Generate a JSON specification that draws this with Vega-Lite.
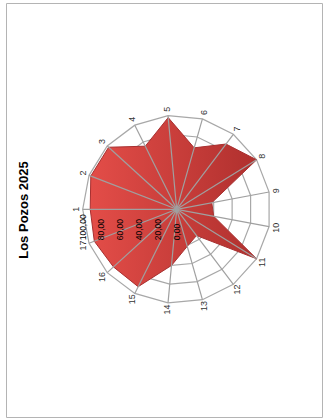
{
  "$schema": "https://vega.github.io/schema/vega-lite/v6.json",
  "width": 316,
  "height": 414,
  "autosize": {"type": "none"},
  "padding": {"left": 6, "top": 3, "right": 1, "bottom": 2},
  "background": "white",
  "config": {"view": {"stroke": "#b4b4b4", "strokeWidth": 1}, "font": "Liberation Sans"},
  "title": {"text": "Los Pozos 2025", "orient": "left", "anchor": "middle", "frame": "group", "offset": -25, "fontSize": 13, "fontWeight": "bold", "color": "#000000", "font": "Liberation Sans"},
  "datasets": {
    "pozos": [
      {"cat": 1, "value": 92}, {"cat": 2, "value": 98}, {"cat": 3, "value": 98},
      {"cat": 4, "value": 75}, {"cat": 5, "value": 98}, {"cat": 6, "value": 68},
      {"cat": 7, "value": 87}, {"cat": 8, "value": 100}, {"cat": 9, "value": 38},
      {"cat": 10, "value": 40}, {"cat": 11, "value": 100}, {"cat": 12, "value": 35},
      {"cat": 13, "value": 41}, {"cat": 14, "value": 60}, {"cat": 15, "value": 92},
      {"cat": 16, "value": 91}, {"cat": 17, "value": 94}
    ],
    "niveles": [
      {"nivel": 0, "etiqueta": "0,00"}, {"nivel": 20, "etiqueta": "20,00"},
      {"nivel": 40, "etiqueta": "40,00"}, {"nivel": 60, "etiqueta": "60,00"},
      {"nivel": 80, "etiqueta": "80,00"}, {"nivel": 100, "etiqueta": "100,00"}
    ]
  },
  "data": {"name": "pozos"},
  "transform": [
    {"calculate": "(datum.cat - 1) * 2 * PI / 17 + 3 * PI / 2", "as": "a"}
  ],
  "layer": [
    {
      "transform": [
        {"calculate": "[20, 40, 60, 80, 100]", "as": "lv"},
        {"flatten": ["lv"]},
        {"calculate": "datum.lv * sin(datum.a)", "as": "rx"},
        {"calculate": "datum.lv * cos(datum.a)", "as": "ry"}
      ],
      "mark": {"type": "line", "interpolate": "linear-closed", "stroke": "#a8a8a8", "strokeWidth": 1.2},
      "encoding": {
        "x": {"field": "rx", "type": "quantitative", "scale": {"domain": [-181.6, 154.6], "nice": false, "zero": false}, "axis": null},
        "y": {"field": "ry", "type": "quantitative", "scale": {"domain": [-221.0, 219.5], "nice": false, "zero": false}, "axis": null},
        "detail": {"field": "lv", "type": "nominal"},
        "order": {"field": "cat", "type": "quantitative"}
      }
    },
    {
      "transform": [
        {"calculate": "datum.value * sin(datum.a)", "as": "px"},
        {"calculate": "datum.value * cos(datum.a)", "as": "py"}
      ],
      "mark": {"type": "line", "interpolate": "linear-closed", "stroke": "#a83030", "strokeWidth": 1,
        "fill": {"gradient": "linear", "x1": 0, "y1": 0, "x2": 1, "y2": 0, "stops": [{"offset": 0, "color": "#e34d48"}, {"offset": 1, "color": "#b0302e"}]}},
      "encoding": {
        "x": {"field": "px", "type": "quantitative"},
        "y": {"field": "py", "type": "quantitative"},
        "order": {"field": "cat", "type": "quantitative"}
      }
    },
    {
      "transform": [
        {"calculate": "100 * sin(datum.a)", "as": "ox"},
        {"calculate": "100 * cos(datum.a)", "as": "oy"}
      ],
      "mark": {"type": "rule", "stroke": "#a0a0a0", "strokeWidth": 1.2},
      "encoding": {
        "x": {"field": "ox", "type": "quantitative"},
        "y": {"field": "oy", "type": "quantitative"},
        "x2": {"datum": 0},
        "y2": {"datum": 0}
      }
    },
    {
      "transform": [
        {"calculate": "107 * sin(datum.a)", "as": "lx"},
        {"calculate": "107 * cos(datum.a)", "as": "ly"}
      ],
      "mark": {"type": "text", "angle": 270, "align": "center", "baseline": "middle", "fontSize": 9, "color": "#333333"},
      "encoding": {
        "x": {"field": "lx", "type": "quantitative"},
        "y": {"field": "ly", "type": "quantitative"},
        "text": {"field": "cat", "type": "nominal"}
      }
    },
    {
      "data": {"name": "niveles"},
      "transform": [{"calculate": "-datum.nivel", "as": "nx"}],
      "mark": {"type": "text", "angle": 270, "align": "left", "baseline": "middle", "fontSize": 8.5, "color": "#000000"},
      "encoding": {
        "x": {"field": "nx", "type": "quantitative"},
        "y": {"datum": -33},
        "text": {"field": "etiqueta", "type": "nominal"}
      }
    }
  ]
}
